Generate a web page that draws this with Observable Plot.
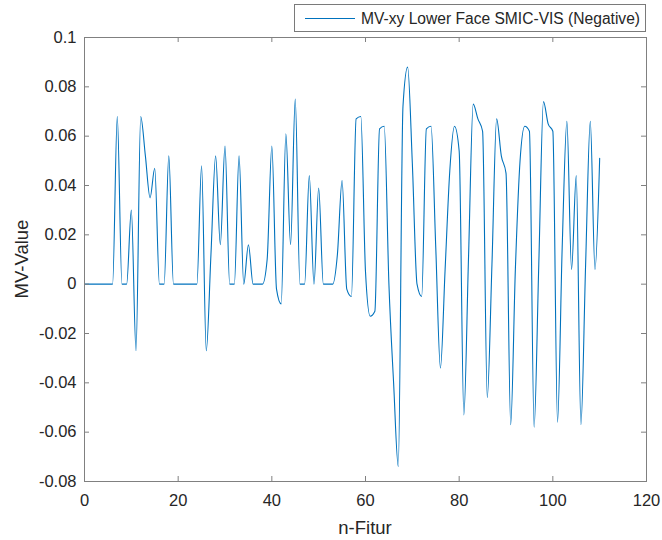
<!DOCTYPE html>
<html>
<head>
<meta charset="utf-8">
<script src="https://cdn.jsdelivr.net/npm/d3@7"></script>
<script src="https://cdn.jsdelivr.net/npm/@observablehq/plot@0.6"></script>
<style>
  html, body { margin: 0; padding: 0; background: #fff; }
  #wrap { position: relative; width: 662px; height: 540px; font-family: "Liberation Sans", Arial, Helvetica, sans-serif; color: #262626; }
  #wrap svg.plot { position: absolute; left: 0; top: 0; }
  .lbl { position: absolute; white-space: nowrap; color: #262626; }
  #legend { position: absolute; left: 294px; top: 4px; width: 352px; height: 28px; border: 1px solid #7a7a7a; background: #fff; box-sizing: border-box; }
  #legend svg { position: absolute; left: 10px; top: 0; }
  #legend span { position: absolute; left: 66px; top: 5px; font-size: 15.6px; line-height: 18px; }
</style>
</head>
<body>
<div id="wrap"></div>
<script>
// ---- data ----
const seriesName = "MV-xy Lower Face SMIC-VIS (Negative)";
const xLabel = "n-Fitur";
const yLabel = "MV-Value";
const nFitur = d3.range(0, 111);
const mvValue = [
  0, 0, 0, 0, 0, 0, 0, 0.068, 0, 0,
  0.030, -0.027, 0.068, 0.052, 0.035, 0.047, 0, 0, 0.052, 0,
  0, 0, 0, 0, 0, 0.048, -0.027, 0.012, 0.052, 0.016,
  0.056, 0, 0, 0.052, 0, 0.016, 0, 0, 0, 0.010,
  0.056, -0.002, -0.008, 0.061, 0.016, 0.075, 0, 0, 0.044, 0,
  0.039, 0, 0, 0, 0.012, 0.042, -0.002, -0.005, 0.067, 0.068,
  0.005, -0.013, -0.011, 0.063, 0.064, 0.000, -0.040, -0.074, 0.072, 0.088,
  0.049, 0.000, -0.005, 0.063, 0.064, 0.015, -0.034, 0.006, 0.046, 0.064,
  0.054, -0.053, 0.011, 0.073, 0.067, 0.062, -0.046, 0.008, 0.067, 0.052,
  0.045, -0.057, 0.006, 0.050, 0.064, 0.062, -0.058, 0.008, 0.074, 0.065,
  0.062, -0.056, 0.015, 0.066, 0.006, 0.044, -0.057, 0.008, 0.066, 0.006,
  0.051
];
const xTicks = [0, 20, 40, 60, 80, 100, 120];
const yTicks = [-0.08, -0.06, -0.04, -0.02, 0, 0.02, 0.04, 0.06, 0.08, 0.1];

const data = nFitur.map((x, i) => ({x, y: mvValue[i]}));

const W = 662, H = 540;
const mL = 84, mR = 16, mT = 37, mB = 59;
const innerW = W - mL - mR, innerH = H - mT - mB;
const tickLen = 5;
const lineColor = "#0072BD";
const axisColor = "#808080";
const textColor = "#262626";
const fmt = d => String(+d.toFixed(2));

const chart = Plot.plot({
  width: W, height: H,
  marginLeft: mL, marginRight: mR, marginTop: mT, marginBottom: mB,
  style: {fontFamily: '"Liberation Sans", Arial, Helvetica, sans-serif', color: textColor, background: "#fff"},
  x: {domain: [0, 120]},
  y: {domain: [-0.08, 0.1]},
  marks: [
    Plot.axisX({ticks: xTicks, tickSize: 0, tickPadding: 13, tickFormat: fmt, fontSize: 16.5, label: null, fill: textColor}),
    Plot.axisY({ticks: yTicks, tickSize: 0, tickPadding: 8, tickFormat: fmt, fontSize: 16.5, label: null, fill: textColor}),
    Plot.line(data, {x: "x", y: "y", stroke: lineColor, strokeWidth: 1.1, curve: "monotone-x"}),
    Plot.frame({stroke: axisColor, strokeWidth: 1}),
    Plot.tickX(xTicks, {x: d => d, stroke: axisColor, insetTop: innerH - tickLen}),
    Plot.tickX(xTicks, {x: d => d, stroke: axisColor, insetBottom: innerH - tickLen}),
    Plot.tickY(yTicks, {y: d => d, stroke: axisColor, insetRight: innerW - tickLen}),
    Plot.tickY(yTicks, {y: d => d, stroke: axisColor, insetLeft: innerW - tickLen})
  ]
});
chart.classList.add("plot");

const wrap = document.getElementById("wrap");
wrap.appendChild(chart);

// axis titles
const xl = document.createElement("div");
xl.className = "lbl";
xl.textContent = xLabel;
xl.style.fontSize = "18.5px";
xl.style.left = (mL + innerW / 2) + "px";
xl.style.top = "517px";
xl.style.transform = "translateX(-50%)";
wrap.appendChild(xl);

const yl = document.createElement("div");
yl.className = "lbl";
yl.textContent = yLabel;
yl.style.fontSize = "18.5px";
yl.style.left = "22px";
yl.style.top = (mT + innerH / 2) + "px";
yl.style.transform = "translate(-50%, -50%) rotate(-90deg)";
wrap.appendChild(yl);

// legend
const lg = document.createElement("div");
lg.id = "legend";
lg.innerHTML = `<svg width="52" height="26"><line x1="0" x2="50" y1="13.5" y2="13.5" stroke="${lineColor}" stroke-width="1.1"/></svg><span></span>`;
lg.querySelector("span").textContent = seriesName;
wrap.appendChild(lg);
</script>
</body>
</html>
